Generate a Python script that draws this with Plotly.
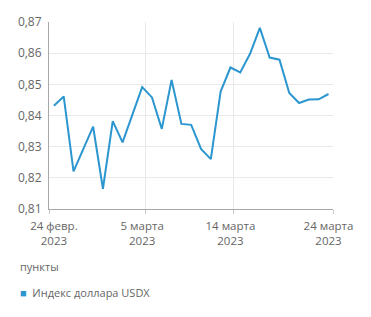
import plotly.graph_objects as go

dates = ["2023-02-24", "2023-02-25", "2023-02-26", "2023-02-28", "2023-03-01", "2023-03-02",
         "2023-03-03", "2023-03-05", "2023-03-06", "2023-03-07", "2023-03-08", "2023-03-09",
         "2023-03-10", "2023-03-11", "2023-03-12", "2023-03-13", "2023-03-14", "2023-03-15",
         "2023-03-16", "2023-03-17", "2023-03-18", "2023-03-19", "2023-03-20", "2023-03-21",
         "2023-03-22", "2023-03-23", "2023-03-24"]
usdx = [0.8431, 0.8461, 0.8221, 0.8364, 0.8165, 0.8382, 0.8314, 0.8491, 0.8458, 0.8357,
        0.8514, 0.8373, 0.8370, 0.8293, 0.8260, 0.8477, 0.8554, 0.8538, 0.8598, 0.8681,
        0.8586, 0.8579, 0.8472, 0.8440, 0.8451, 0.8452, 0.8469]

tick_dates = ["2023-02-24", "2023-03-05", "2023-03-14", "2023-03-24"]
tick_labels = ["24 февр.<br>2023", "5 марта<br>2023", "14 марта<br>2023", "24 марта<br>2023"]
grid_dates = ["2023-02-23 12:00", "2023-03-05 08:30", "2023-03-14 06:40", "2023-03-24 11:00"]

series_name = "Индекс доллара USDX"
unit_label = "пункты"
color = "#2b96cf"
text_color = "#666666"

fig = go.Figure()
fig.add_trace(go.Scatter(x=dates, y=usdx, mode="lines", name=series_name,
                         line=dict(color=color, width=2), showlegend=False))

fig.update_layout(
    width=371, height=317,
    margin=dict(l=49, r=38, t=22, b=108),
    paper_bgcolor="white", plot_bgcolor="white",
    separators=", ",
    font=dict(family="Open Sans", size=12, color=text_color),
    xaxis=dict(
        type="date",
        range=["2023-02-23 12:00", "2023-03-24 11:00"],
        tickmode="array", tickvals=tick_dates, ticktext=tick_labels,
        showgrid=False, ticks="", showline=True, linecolor="#a8a8a8", linewidth=1,
        ticklabelstandoff=6,
        tickfont=dict(size=11.5, color=text_color),
        minor=dict(tickmode="array", tickvals=grid_dates, showgrid=True,
                   gridcolor="#e9e9e9", gridwidth=1, ticks="outside", ticklen=4,
                   tickcolor="#c8c8c8"),
        zeroline=False, fixedrange=True,
    ),
    yaxis=dict(
        range=[0.81, 0.87], dtick=0.01, tick0=0.81, tickformat=".2f",
        showgrid=True, gridcolor="#e9e9e9", gridwidth=1,
        showline=True, linecolor="#a8a8a8", linewidth=1,
        ticks="", ticklabelstandoff=4,
        tickfont=dict(size=12, color=text_color),
        zeroline=False,
    ),
    annotations=[
        dict(text=unit_label, xref="paper", yref="paper", x=-0.109, y=-0.305,
             xanchor="left", yanchor="middle", showarrow=False,
             font=dict(size=11, color=text_color)),
        dict(text=f"<span style='color:{color}'>■</span>  {series_name}",
             xref="paper", yref="paper", x=-0.109, y=-0.449,
             xanchor="left", yanchor="middle", showarrow=False,
             font=dict(size=11, color=text_color)),
    ],
)

fig.write_html("out.html")
